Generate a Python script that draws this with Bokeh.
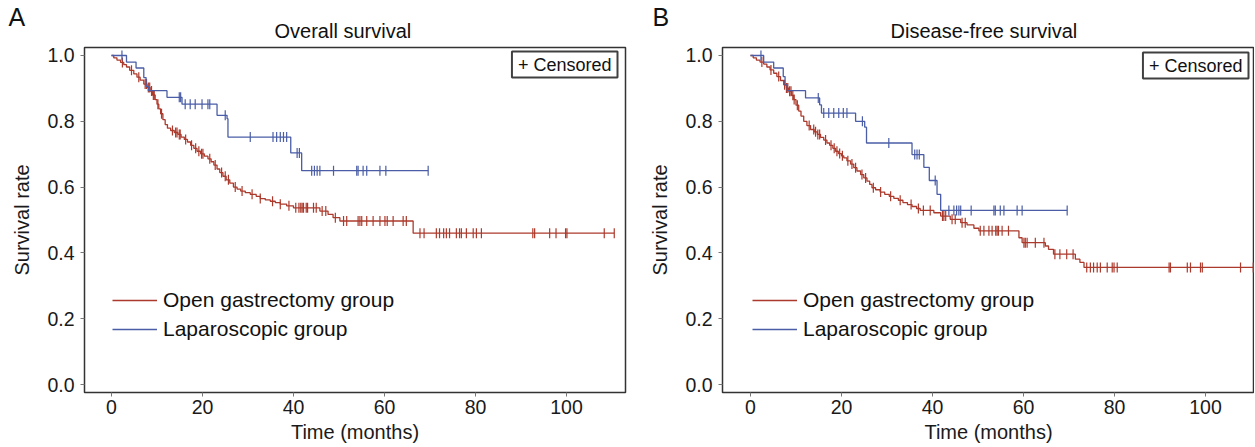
import numpy as np
from bokeh.plotting import figure
from bokeh.models import Range1d, Legend, LegendItem, Label, FixedTicker, Title
from bokeh.layouts import row
from bokeh.embed import file_html
from bokeh.resources import INLINE

FONT = "Liberation Sans"
RED = "#AC3A2C"
BLUE = "#4A5DA6"

x_ticks = [0, 20, 40, 60, 80, 100]
y_ticks = [0.0, 0.2, 0.4, 0.6, 0.8, 1.0]
y_tick_labels = ["0.0", "0.2", "0.4", "0.6", "0.8", "1.0"]
group_labels = ["Open gastrectomy group", "Laparoscopic group"]
panel_titles = ["Overall survival", "Disease-free survival"]
panel_letters = ["A", "B"]

# ---- Panel A: overall survival ----
os_open_t = [0.5, 1.2, 2.0, 2.7, 3.3, 4.0, 4.9, 5.6, 6.3, 7.1, 7.8, 8.5, 9.0, 9.6, 10.0, 10.4, 10.8, 11.3, 11.8,
             12.3, 13.0, 13.8, 14.6, 15.3, 16.0, 16.7, 17.4, 18.1, 18.8, 19.6, 20.4, 21.2, 21.9, 22.5, 23.2, 23.8,
             24.5, 25.2, 26.0, 26.8, 27.6, 28.4, 29.4, 30.5, 31.8, 32.7, 33.8, 34.9, 36.0, 37.1, 38.5, 40.0, 45.8,
             47.6, 48.7, 50.2, 66.3]
os_open_s = [0.993, 0.986, 0.979, 0.972, 0.965, 0.955, 0.944, 0.934, 0.925, 0.913, 0.903, 0.892, 0.880, 0.866,
             0.852, 0.838, 0.823, 0.805, 0.790, 0.779, 0.772, 0.766, 0.760, 0.752, 0.745, 0.737, 0.727, 0.718,
             0.709, 0.701, 0.694, 0.686, 0.677, 0.667, 0.655, 0.644, 0.633, 0.622, 0.612, 0.600, 0.594, 0.588,
             0.583, 0.578, 0.572, 0.565, 0.561, 0.557, 0.553, 0.548, 0.543, 0.537, 0.527, 0.517, 0.507, 0.497,
             0.460]
os_open_end = 110.5
os_open_cens = [2.4, 4.4, 6.0, 7.4, 7.7, 8.1, 8.4, 8.8, 9.2, 9.4, 10.2, 11.0, 13.4, 14.1, 14.4, 14.9, 15.1, 16.3,
                17.6, 18.5, 19.2, 19.8, 20.1, 21.6, 22.8, 24.2, 25.0, 25.7, 27.2, 28.7, 30.9, 32.7, 35.4, 37.1,
                39.0, 40.5, 41.2, 41.6, 41.9, 42.2, 42.8, 43.1, 44.4, 45.0, 46.3, 47.1, 49.2, 51.0, 51.7, 54.2,
                54.6, 55.0, 56.1, 57.5, 59.0, 60.1, 60.6, 61.9, 64.1, 64.8, 67.8, 68.7, 71.4, 72.1, 73.0, 73.6,
                74.3, 75.8, 76.5, 76.9, 78.0, 79.5, 80.2, 81.3, 92.6, 93.0, 96.3, 97.7, 99.8, 100.1, 108.3, 110.5]

os_lap_t = [3.3, 5.4, 7.1, 7.6, 8.1, 12.2, 15.5, 23.2, 25.4, 25.6, 39.4, 41.8]
os_lap_s = [0.980, 0.962, 0.933, 0.906, 0.893, 0.873, 0.852, 0.818, 0.808, 0.752, 0.704, 0.650]
os_lap_end = 69.6
os_lap_cens = [2.3, 14.9, 15.2, 16.2, 17.3, 18.4, 19.9, 21.2, 21.6, 25.0, 30.5, 35.5, 36.3, 37.1, 37.8, 38.5,
               40.8, 41.3, 44.0, 44.6, 45.2, 45.8, 48.8, 53.9, 54.2, 55.3, 56.1, 59.0, 60.3, 69.6]

# ---- Panel B: disease-free survival ----
dfs_open_t = [0.6, 1.3, 2.1, 2.9, 3.6, 4.3, 5.1, 5.8, 6.6, 7.3, 7.9, 8.4, 9.0, 9.5, 10.0, 10.6, 11.1, 11.7, 12.4,
              13.2, 14.0, 14.7, 15.4, 16.1, 16.8, 17.4, 18.1, 18.7, 19.3, 20.0, 20.5, 21.2, 22.0, 22.7, 23.4, 24.2,
              24.9, 25.6, 26.2, 26.7, 27.5, 28.5, 29.5, 30.5, 31.5, 32.5, 33.5, 34.5, 35.5, 36.5, 37.3, 40.3, 41.8,
              43.9, 46.2, 47.6, 49.1, 50.2, 59.0, 59.7, 64.8, 65.5, 66.6, 71.4, 72.4, 73.3]
dfs_open_s = [0.993, 0.986, 0.980, 0.974, 0.965, 0.956, 0.946, 0.936, 0.924, 0.911, 0.901, 0.891, 0.879, 0.866,
              0.849, 0.831, 0.816, 0.800, 0.787, 0.775, 0.768, 0.760, 0.751, 0.743, 0.734, 0.727, 0.718, 0.709,
              0.702, 0.695, 0.689, 0.680, 0.670, 0.659, 0.649, 0.638, 0.628, 0.618, 0.608, 0.598, 0.592, 0.585,
              0.578, 0.572, 0.566, 0.560, 0.553, 0.547, 0.541, 0.535, 0.529, 0.522, 0.512, 0.502, 0.492, 0.485,
              0.475, 0.467, 0.446, 0.431, 0.421, 0.411, 0.396, 0.381, 0.371, 0.356]
dfs_open_end = 110.5
dfs_open_cens = [2.5, 4.5, 6.2, 7.5, 7.9, 8.2, 8.6, 8.9, 9.3, 9.6, 10.3, 12.9, 13.9, 14.3, 14.8, 15.2, 16.5, 17.7,
                 18.4, 19.0, 19.6, 20.2, 21.4, 22.3, 23.1, 24.5, 25.3, 27.0, 28.6, 30.8, 32.9, 35.3, 36.9, 38.0,
                 39.5, 42.2, 42.5, 42.9, 44.3, 45.0, 46.5, 47.2, 50.5, 51.3, 52.4, 53.1, 53.9, 54.2, 54.5, 55.3,
                 56.7, 60.1, 60.4, 60.8, 62.6, 64.5, 66.9, 68.0, 69.5, 70.9, 73.9, 74.7, 75.4, 76.2, 76.9, 78.4,
                 79.5, 79.9, 80.6, 92.0, 92.3, 96.0, 96.7, 98.9, 99.3, 107.7, 110.5]

dfs_lap_t = [2.9, 5.1, 7.2, 7.6, 8.1, 12.1, 15.2, 15.6, 23.1, 25.1, 25.5, 35.5, 38.1, 39.3, 41.0, 41.8]
dfs_lap_s = [0.980, 0.962, 0.936, 0.911, 0.893, 0.871, 0.850, 0.825, 0.800, 0.782, 0.734, 0.699, 0.660, 0.620,
             0.578, 0.529]
dfs_lap_end = 69.6
dfs_lap_cens = [2.3, 14.9, 16.1, 17.2, 18.3, 19.4, 20.4, 21.2, 24.6, 30.4, 36.1, 36.6, 37.1, 40.6, 43.6, 44.7,
                45.3, 45.8, 46.2, 48.5, 53.5, 53.8, 54.9, 55.7, 58.6, 59.7, 69.6]


def km_path(step_t, step_s, end):
    return [0.0] + list(step_t) + [end], [1.0] + list(step_s) + [step_s[-1]]


def surv_at(step_t, step_s, times):
    idx = np.searchsorted(np.array(step_t), np.array(times), side="right") - 1
    s = np.array(step_s)
    return np.where(idx >= 0, s[np.clip(idx, 0, None)], 1.0)


def make_panel(title, letter, curves, width, xr, min_left, min_right, title_offset, letter_offset,
               censor_x, censor_y, legend_x):
    p = figure(width=width, height=447, x_range=Range1d(*xr), y_range=Range1d(-0.0243, 1.0243),
               output_backend="svg", toolbar_location=None, title=None,
               min_border_left=min_left, min_border_right=min_right, min_border_top=47, min_border_bottom=55)
    p.grid.visible = False
    p.outline_line_color = "#333333"
    p.outline_line_width = 1.5
    p.background_fill_color = "white"
    p.border_fill_color = "white"

    p.add_layout(Title(text=title, align="left", offset=title_offset, standoff=12, text_font=FONT,
                       text_font_size="20px", text_font_style="normal", text_color="#111111"), "above")
    p.add_layout(Title(text=letter, align="left", offset=letter_offset, standoff=-38, text_font=FONT,
                       text_font_size="25px", text_font_style="normal", text_color="#111111"), "above")

    for ax in (p.xaxis[0], p.yaxis[0]):
        ax.axis_line_color = None
        ax.major_tick_line_color = "#777777"
        ax.major_tick_out = 4
        ax.major_tick_in = 0
        ax.minor_tick_line_color = None
        ax.major_label_text_font = FONT
        ax.major_label_text_font_size = "19.5px"
        ax.major_label_text_color = "#1a1a1a"
        ax.axis_label_text_font = FONT
        ax.axis_label_text_font_size = "20px"
        ax.axis_label_text_font_style = "normal"
        ax.axis_label_text_color = "#1a1a1a"

    p.xaxis.ticker = FixedTicker(ticks=x_ticks)
    p.xaxis.axis_label = "Time (months)"
    p.xaxis.axis_label_standoff = 4
    p.xaxis.major_label_standoff = 3

    p.yaxis.ticker = FixedTicker(ticks=y_ticks)
    p.yaxis.major_label_overrides = {v: lab for v, lab in zip(y_ticks, y_tick_labels)}
    p.yaxis.axis_label = "Survival rate"
    p.yaxis.axis_label_standoff = 11
    p.yaxis.major_label_standoff = 6

    renderers = []
    for (st, ss, end, cens, color) in curves:
        xs, ys = km_path(st, ss, end)
        r = p.step(xs, ys, mode="after", line_color=color, line_width=1.3)
        p.scatter(cens, surv_at(st, ss, cens), marker="dash", angle=np.pi / 2, size=10,
                  line_color=color, line_width=1.2)
        renderers.append(r)

    legend = Legend(items=[LegendItem(label=group_labels[0], renderers=[renderers[0]]),
                           LegendItem(label=group_labels[1], renderers=[renderers[1]])],
                    location=(legend_x, 51), orientation="vertical", glyph_width=45, glyph_height=24,
                    label_height=24, spacing=5, padding=0, margin=0, label_standoff=6,
                    border_line_color=None, background_fill_alpha=0,
                    label_text_font=FONT, label_text_font_size="21px", label_text_color="#111111")
    p.add_layout(legend)

    p.add_layout(Label(x=censor_x, y=censor_y, x_units="screen", y_units="screen", text="+ Censored",
                       anchor="top_right", text_font=FONT, text_font_size="18px", text_color="#111111",
                       border_line_color="#404040", border_line_width=2, background_fill_color="white",
                       padding=(6, 3)))
    return p


pa = make_panel(panel_titles[0], panel_letters[0],
                [(os_open_t, os_open_s, os_open_end, os_open_cens, RED),
                 (os_lap_t, os_lap_s, os_lap_end, os_lap_cens, BLUE)],
                width=646, xr=(-5.93, 112.97), min_left=84, min_right=21, title_offset=190,
                letter_offset=-76, censor_x=533, censor_y=341, legend_x=28)
pb = make_panel(panel_titles[1], panel_letters[1],
                [(dfs_open_t, dfs_open_s, dfs_open_end, dfs_open_cens, RED),
                 (dfs_lap_t, dfs_lap_s, dfs_lap_end, dfs_lap_cens, BLUE)],
                width=608, xr=(-6.15, 110.77), min_left=76, min_right=0, title_offset=168,
                letter_offset=-70, censor_x=526, censor_y=340, legend_x=30)

layout = row(pa, pb)
open("out.html", "w").write(file_html(layout, INLINE))
